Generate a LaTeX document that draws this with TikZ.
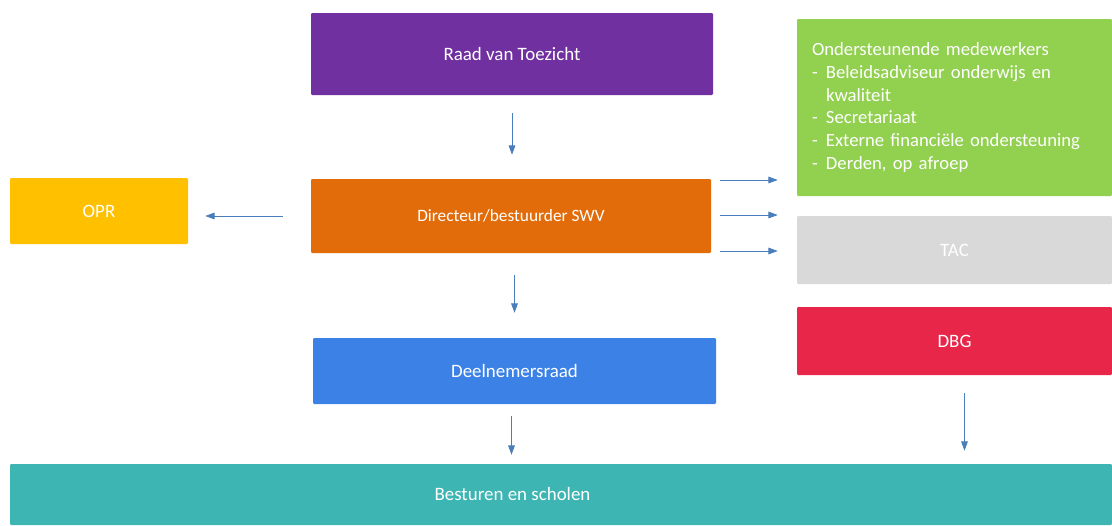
\documentclass[tikz,border=0pt]{standalone}
\usepackage{fontspec}
\setmainfont{Carlito}
\usetikzlibrary{arrows.meta}
\definecolor{rvtpurple}{HTML}{7030A0}
\definecolor{ondgreen}{HTML}{92D050}
\definecolor{opryellow}{HTML}{FFC000}
\definecolor{dirorange}{HTML}{E36C0A}
\definecolor{tacgray}{HTML}{D9D9D9}
\definecolor{dbgred}{HTML}{E7264A}
\definecolor{dnrblue}{HTML}{3C82E6}
\definecolor{besteal}{HTML}{3CB5B3}
\definecolor{arrblue}{HTML}{4A7EBB}
\def\pxu{0.75pt}
\tikzset{
  box/.style={inner sep=0pt, text=white, rounded corners=0.8pt,
    font=\fontsize{14.2}{17}\selectfont},
  arr/.style={draw=arrblue, line width=0.6pt, -{Triangle[length=7pt,width=5pt]}}
}
\begin{document}
\begin{tikzpicture}[x=0.75pt,y=-0.75pt]
  \useasboundingbox (0,0) rectangle (1112,525);

  \node[box, fill=rvtpurple, minimum width=402*\pxu, minimum height=82*\pxu] at (512,54) (rvt) {Raad van Toezicht};
  \node[box, fill=dirorange, minimum width=400*\pxu, minimum height=74*\pxu, font=\fontsize{13}{15}\selectfont] at (511,216) (dir) {Directeur/bestuurder SWV};
  \node[box, fill=opryellow, minimum width=178*\pxu, minimum height=66*\pxu] at (99,211) (opr) {OPR};
  \node[box, fill=dnrblue, minimum width=403*\pxu, minimum height=66*\pxu] at (514.5,371) (dnr) {Deelnemersraad};
  \node[box, fill=ondgreen, minimum height=177*\pxu, inner xsep=15*\pxu, text width=285*\pxu, align=left,
    font=\fontsize{14}{17}\selectfont] at (954.5,107.5) (ond) {Ondersteunende medewerkers\\
    \makebox[10.5pt][l]{-}Beleidsadviseur onderwijs en\\
    \makebox[10.5pt][l]{}kwaliteit\\
    \makebox[10.5pt][l]{-}Secretariaat\\
    \makebox[10.5pt][l]{-}Externe financiële ondersteuning\\
    \makebox[10.5pt][l]{-}Derden, op afroep};
  \node[box, fill=tacgray, minimum width=315*\pxu, minimum height=68*\pxu] at (954.5,250) (tac) {TAC};
  \node[box, fill=dbgred, minimum width=315*\pxu, minimum height=68*\pxu] at (954.5,341) (dbg) {DBG};
  \node[box, fill=besteal, minimum width=1102*\pxu, minimum height=61*\pxu, text depth=1pt] at (561,494.5) (bes) {\hspace{-72.75pt}Besturen en scholen};

  % connectors
  \draw[arr, shorten <=18*\pxu, shorten >=24*\pxu] (rvt.south) -- (rvt.south |- dir.north);
  \draw[arr, shorten <=28*\pxu, shorten >=17*\pxu] (dir.west) -- (dir.west -| opr.east);
  \foreach \dy in {36,1,-35}
    \draw[arr, shorten <=9*\pxu, shorten >=19*\pxu] ([yshift=\dy*\pxu]dir.east) -- ([yshift=\dy*\pxu]dir.east -| tac.west);
  \draw[arr, shorten <=22*\pxu, shorten >=25*\pxu] (dnr.north |- dir.south) -- (dnr.north);
  \draw[arr, shorten <=12*\pxu, shorten >=9*\pxu] ([xshift=-3*\pxu]dnr.south) -- ([xshift=-3*\pxu]dnr.south |- bes.north);
  \draw[arr, shorten <=18*\pxu, shorten >=13*\pxu] ([xshift=10*\pxu]dbg.south) -- ([xshift=10*\pxu]dbg.south |- bes.north);
\end{tikzpicture}
\end{document}
